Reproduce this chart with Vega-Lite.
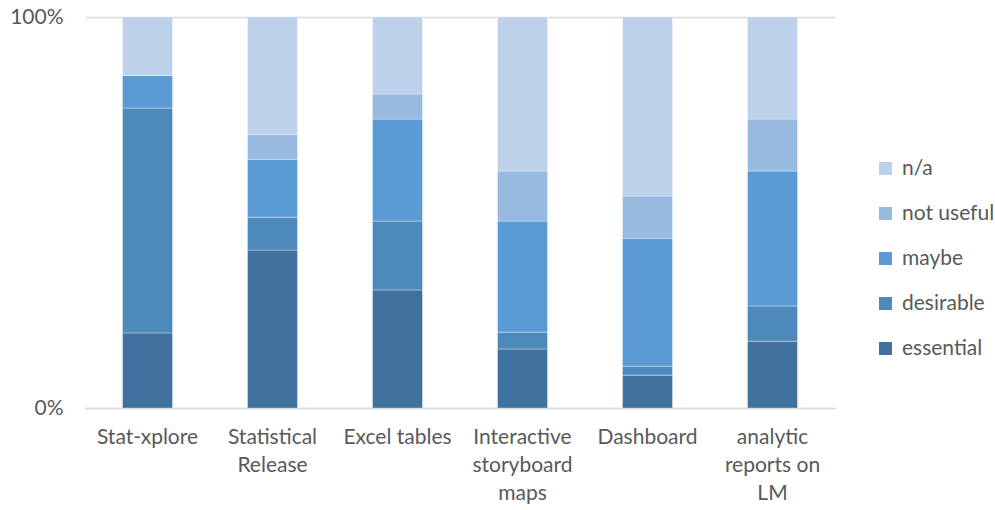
{
  "$schema": "https://vega.github.io/schema/vega-lite/v6.json",
  "autosize": "none",
  "width": 750,
  "height": 391,
  "padding": {"left": 85, "top": 17, "right": 160, "bottom": 102},
  "background": "white",
  "config": {"view": {"stroke": null}, "font": "Lato"},
  "data": {"values": [
    {"cat": "Stat-xplore", "level": "essential", "rank": 1, "pct": 19.2},
    {"cat": "Stat-xplore", "level": "desirable", "rank": 2, "pct": 57.5},
    {"cat": "Stat-xplore", "level": "maybe", "rank": 3, "pct": 8.4},
    {"cat": "Stat-xplore", "level": "not useful", "rank": 4, "pct": 0},
    {"cat": "Stat-xplore", "level": "n/a", "rank": 5, "pct": 14.9},
    {"cat": "Statistical Release", "level": "essential", "rank": 1, "pct": 40.4},
    {"cat": "Statistical Release", "level": "desirable", "rank": 2, "pct": 8.4},
    {"cat": "Statistical Release", "level": "maybe", "rank": 3, "pct": 14.8},
    {"cat": "Statistical Release", "level": "not useful", "rank": 4, "pct": 6.4},
    {"cat": "Statistical Release", "level": "n/a", "rank": 5, "pct": 30.0},
    {"cat": "Excel tables", "level": "essential", "rank": 1, "pct": 30.2},
    {"cat": "Excel tables", "level": "desirable", "rank": 2, "pct": 17.6},
    {"cat": "Excel tables", "level": "maybe", "rank": 3, "pct": 26.1},
    {"cat": "Excel tables", "level": "not useful", "rank": 4, "pct": 6.4},
    {"cat": "Excel tables", "level": "n/a", "rank": 5, "pct": 19.7},
    {"cat": "Interactive storyboard maps", "level": "essential", "rank": 1, "pct": 15.1},
    {"cat": "Interactive storyboard maps", "level": "desirable", "rank": 2, "pct": 4.3},
    {"cat": "Interactive storyboard maps", "level": "maybe", "rank": 3, "pct": 28.4},
    {"cat": "Interactive storyboard maps", "level": "not useful", "rank": 4, "pct": 12.8},
    {"cat": "Interactive storyboard maps", "level": "n/a", "rank": 5, "pct": 39.4},
    {"cat": "Dashboard", "level": "essential", "rank": 1, "pct": 8.4},
    {"cat": "Dashboard", "level": "desirable", "rank": 2, "pct": 2.3},
    {"cat": "Dashboard", "level": "maybe", "rank": 3, "pct": 32.7},
    {"cat": "Dashboard", "level": "not useful", "rank": 4, "pct": 10.8},
    {"cat": "Dashboard", "level": "n/a", "rank": 5, "pct": 45.8},
    {"cat": "analytic reports on LM", "level": "essential", "rank": 1, "pct": 17.1},
    {"cat": "analytic reports on LM", "level": "desirable", "rank": 2, "pct": 9.0},
    {"cat": "analytic reports on LM", "level": "maybe", "rank": 3, "pct": 34.5},
    {"cat": "analytic reports on LM", "level": "not useful", "rank": 4, "pct": 13.3},
    {"cat": "analytic reports on LM", "level": "n/a", "rank": 5, "pct": 26.1}
  ]},
  "mark": {"type": "bar", "stroke": "#ffffff", "strokeOpacity": 0.35, "strokeWidth": 1},
  "encoding": {
    "x": {
      "field": "cat", "type": "nominal", "sort": null,
      "scale": {"paddingInner": 0.6, "paddingOuter": 0.3},
      "axis": {
        "title": null, "labelAngle": 0, "ticks": false,
        "domainColor": "#d9d9d9", "domainWidth": 1.5,
        "labelFont": "Lato", "labelFontSize": 21, "labelColor": "#595959",
        "labelPadding": 18, "labelLineHeight": 28, "labelBaseline": "top",
        "labelExpr": "datum.value == 'Statistical Release' ? ['Statistical', 'Release'] : datum.value == 'Interactive storyboard maps' ? ['Interactive', 'storyboard', 'maps'] : datum.value == 'analytic reports on LM' ? ['analytic', 'reports on', 'LM'] : datum.value"
      }
    },
    "y": {
      "field": "pct", "type": "quantitative", "stack": "normalize",
      "scale": {"domain": [0, 1]},
      "axis": {
        "title": null, "values": [0, 1], "format": ".0%",
        "domain": false, "ticks": false,
        "gridColor": "#d9d9d9", "gridWidth": 1.5,
        "labelFont": "Lato", "labelFontSize": 21, "labelColor": "#595959",
        "labelPadding": 22
      }
    },
    "color": {
      "field": "level", "type": "nominal",
      "scale": {
        "domain": ["n/a", "not useful", "maybe", "desirable", "essential"],
        "range": ["#bdd1ea", "#98b9e0", "#5a9bd5", "#4e89bc", "#41729f"]
      },
      "legend": {
        "title": null, "orient": "none", "legendX": 790, "legendY": 141,
        "symbolType": "square", "symbolSize": 170, "symbolStrokeWidth": 0,
        "labelFont": "Lato", "labelFontSize": 21, "labelColor": "#595959",
        "rowPadding": 23, "labelOffset": 6
      }
    },
    "order": {"field": "rank", "type": "quantitative", "sort": "ascending"}
  }
}
